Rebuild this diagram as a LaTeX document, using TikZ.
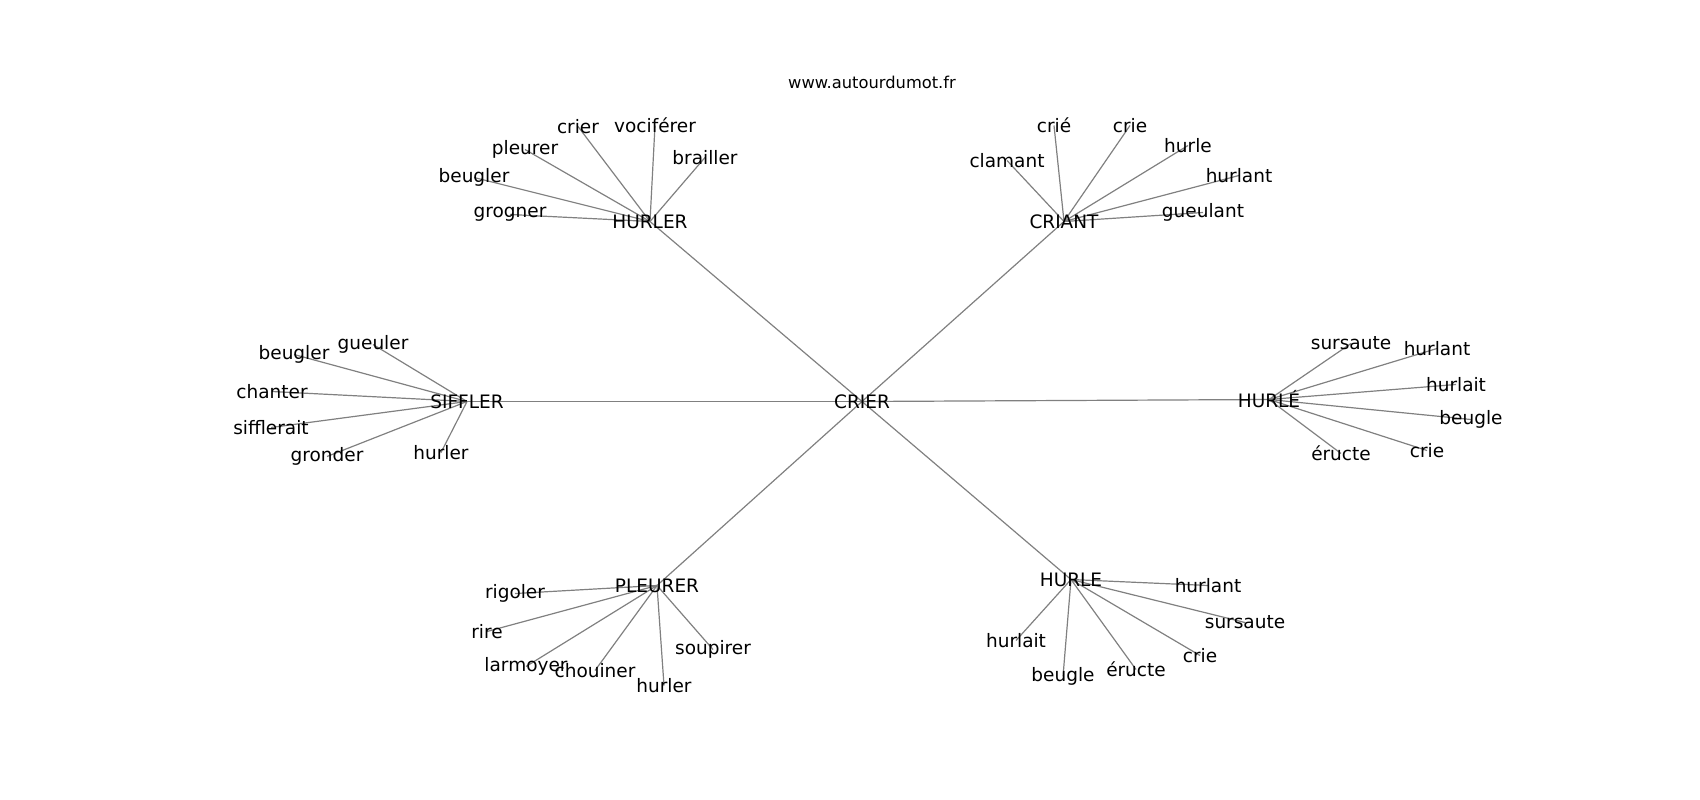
\documentclass[tikz,border=0pt]{standalone}
\usepackage{fontspec}
\setmainfont{DejaVu Sans}
\pgfdeclarelayer{background}
\pgfsetlayers{background,main}
\tikzset{
  lbl/.style={inner sep=0pt, font=\fontsize{18.5}{20}\selectfont, text=black},
  ttl/.style={inner sep=0pt, font=\fontsize{16.3}{18}\selectfont, text=black},
  edge/.style={draw=gray, line width=1.2pt}
}
\begin{document}
\begin{tikzpicture}[x=1pt,y=-1pt]
\useasboundingbox (0,0) rectangle (1700,800);
\node[ttl] (title) at (872,82) {www.autourdumot.fr};
\begin{scope}[yshift=-2.5pt]
% hubs
\node[lbl] (crier) at (862,399) {CRIER};
\node[lbl] (hurler) at (650,219) {HURLER};
\node[lbl] (criant) at (1064,219) {CRIANT};
\node[lbl] (siffler) at (467,399) {SIFFLER};
\node[lbl] (hurleacc) at (1269,397) {HURLÉ};
\node[lbl] (pleurer) at (657,583) {PLEURER};
\node[lbl] (hurle) at (1071,577) {HURLE};
% HURLER leaves
\node[lbl] (a1) at (578,124) {crier};
\node[lbl] (a2) at (655,123) {vociférer};
\node[lbl] (a3) at (705,155) {brailler};
\node[lbl] (a4) at (525,147) {pleurer};
\node[lbl] (a5) at (474,175) {beugler};
\node[lbl] (a6) at (510,212) {grogner};
% CRIANT leaves
\node[lbl] (b1) at (1054,123) {crié};
\node[lbl] (b2) at (1130,123) {crie};
\node[lbl] (b3) at (1188,143) {hurle};
\node[lbl] (b4) at (1239,173) {hurlant};
\node[lbl] (b5) at (1203,210) {gueulant};
\node[lbl] (b6) at (1007,158) {clamant};
% SIFFLER leaves
\node[lbl] (c1) at (373,342) {gueuler};
\node[lbl] (c2) at (294,352) {beugler};
\node[lbl] (c3) at (272,389) {chanter};
\node[lbl] (c4) at (271,425) {sifflerait};
\node[lbl] (c5) at (327,454) {gronder};
\node[lbl] (c6) at (441,450) {hurler};
% HURLÉ leaves
\node[lbl] (d1) at (1351,341) {sursaute};
\node[lbl] (d2) at (1437,346) {hurlant};
\node[lbl] (d3) at (1456,382) {hurlait};
\node[lbl] (d4) at (1471,417) {beugle};
\node[lbl] (d5) at (1427,448) {crie};
\node[lbl] (d6) at (1341,451) {éructe};
% PLEURER leaves
\node[lbl] (e1) at (515,591) {rigoler};
\node[lbl] (e2) at (487,629) {rire};
\node[lbl] (e3) at (526,664) {larmoyer};
\node[lbl] (e4) at (595,668) {chouiner};
\node[lbl] (e5) at (664,683) {hurler};
\node[lbl] (e6) at (713,647) {soupirer};
% HURLE leaves
\node[lbl] (f1) at (1208,583) {hurlant};
\node[lbl] (f2) at (1245,620) {sursaute};
\node[lbl] (f3) at (1200,653) {crie};
\node[lbl] (f4) at (1136,667) {éructe};
\node[lbl] (f5) at (1063,674) {beugle};
\node[lbl] (f6) at (1016,638) {hurlait};
\end{scope}
\begin{pgfonlayer}{background}
\foreach \h in {hurler,criant,siffler,hurleacc,pleurer,hurle}
  \draw[edge] (crier.center) -- (\h.center);
\foreach \l in {a1,a2,a3,a4,a5,a6}
  \draw[edge] (hurler.center) -- (\l.center);
\foreach \l in {b1,b2,b3,b4,b5,b6}
  \draw[edge] (criant.center) -- (\l.center);
\foreach \l in {c1,c2,c3,c4,c5,c6}
  \draw[edge] (siffler.center) -- (\l.center);
\foreach \l in {d1,d2,d3,d4,d5,d6}
  \draw[edge] (hurleacc.center) -- (\l.center);
\foreach \l in {e1,e2,e3,e4,e5,e6}
  \draw[edge] (pleurer.center) -- (\l.center);
\foreach \l in {f1,f2,f3,f4,f5,f6}
  \draw[edge] (hurle.center) -- (\l.center);
\end{pgfonlayer}
\end{tikzpicture}
\end{document}
